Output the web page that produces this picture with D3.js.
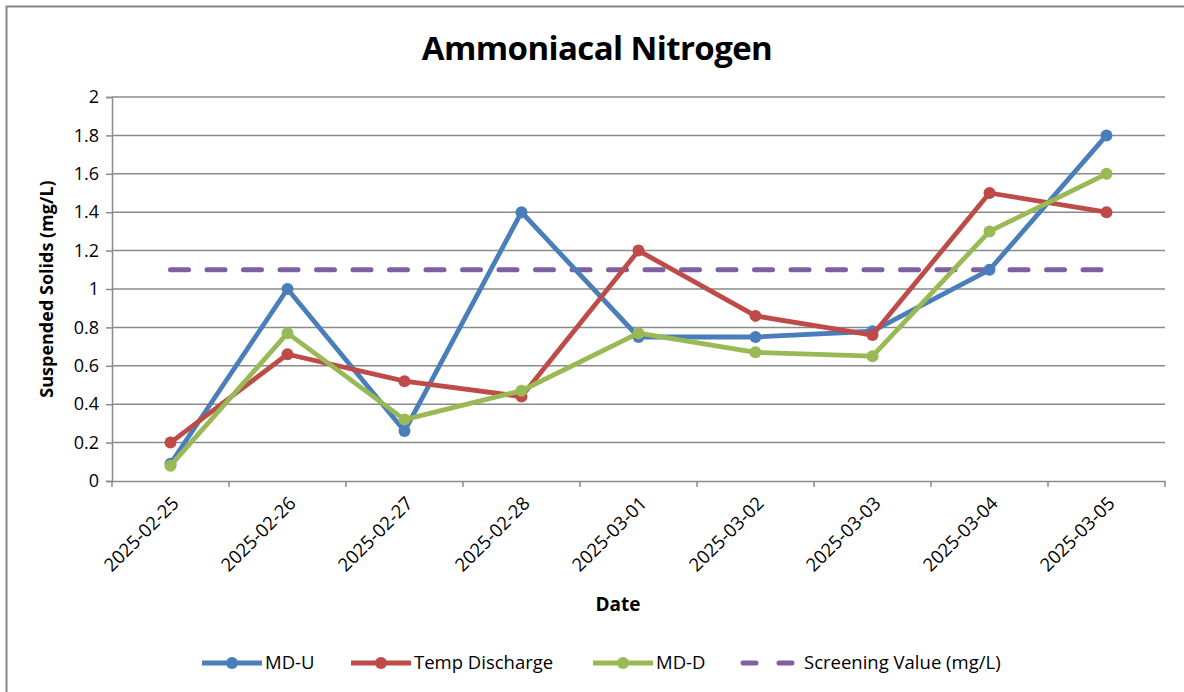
<!DOCTYPE html>
<html>
<head>
<meta charset="utf-8">
<script src="https://cdn.jsdelivr.net/npm/d3@7"></script>
<style>
  body { margin: 0; background: #fff; }
  text { font-family: "Open Sans", Lato, sans-serif; fill: #000; }
</style>
</head>
<body>
<div id="chart"></div>
<script>
// data
const dates = ["2025-02-25", "2025-02-26", "2025-02-27", "2025-02-28", "2025-03-01",
               "2025-03-02", "2025-03-03", "2025-03-04", "2025-03-05"];
const mdU = [0.09, 1.0, 0.26, 1.4, 0.75, 0.75, 0.78, 1.1, 1.8];
const tempDischarge = [0.2, 0.66, 0.52, 0.44, 1.2, 0.86, 0.76, 1.5, 1.4];
const mdD = [0.08, 0.77, 0.32, 0.47, 0.77, 0.67, 0.65, 1.3, 1.6];
const screening = [1.1, 1.1, 1.1, 1.1, 1.1, 1.1, 1.1, 1.1, 1.1];
const yTicks = [0, 0.2, 0.4, 0.6, 0.8, 1, 1.2, 1.4, 1.6, 1.8, 2];

const series = [
  { name: "MD-U", values: mdU, color: "#4A7EBB" },
  { name: "Temp Discharge", values: tempDischarge, color: "#BE4B48" },
  { name: "MD-D", values: mdD, color: "#98B954" }
];

const W = 1184, H = 692;
const margin = { top: 97, right: 19, bottom: 211, left: 112 };
const width = W - margin.left - margin.right;
const height = H - margin.top - margin.bottom;

const root = d3.select("#chart").append("svg")
  .attr("width", W).attr("height", H);

// outer chart frame (runs off the right and bottom of the picture)
root.append("rect")
  .attr("x", 6.5).attr("y", 6.5)
  .attr("width", 1200).attr("height", 720)
  .attr("fill", "none").attr("stroke", "#878787").attr("stroke-width", 2);

root.append("text")
  .attr("x", 597).attr("y", 60)
  .attr("text-anchor", "middle")
  .style("font-size", "33px").style("font-weight", "bold")
  .style("letter-spacing", "-0.6px")
  .text("Ammoniacal Nitrogen");

const svg = root.append("g")
  .attr("transform", `translate(${margin.left},${margin.top})`);

const x = d3.scaleBand().domain(dates).range([0, width]);
const y = d3.scaleLinear().domain([0, 2]).range([height, 0]);

// grid
svg.append("g")
  .selectAll("line")
  .data(yTicks.slice(1))
  .enter().append("line")
  .attr("x1", 0).attr("x2", width)
  .attr("y1", d => y(d)).attr("y2", d => y(d))
  .attr("stroke", "#8a8a8a").attr("stroke-width", 1.5);

// y axis
const yAxis = svg.append("g")
  .call(d3.axisLeft(y).tickValues(yTicks).tickSize(6).tickPadding(7).tickFormat(d => d3.format("")(d)));
yAxis.select(".domain").attr("stroke", "#8a8a8a").attr("stroke-width", 1.5);
yAxis.selectAll(".tick line").attr("stroke", "#8a8a8a").attr("stroke-width", 1.5);
yAxis.selectAll(".tick text").style("font-size", "18px").style("font-family", "'Open Sans', sans-serif").attr("fill", "#000");

// x axis with ticks at band edges
const xAxis = svg.append("g")
  .attr("transform", `translate(0,${height})`)
  .call(d3.axisBottom(x).tickSize(0).tickSizeOuter(0).tickPadding(0));
xAxis.select(".domain").attr("stroke", "#8a8a8a").attr("stroke-width", 1.5);
xAxis.selectAll(".tick text")
  .style("font-size", "18.5px").style("font-family", "'Open Sans', sans-serif").attr("fill", "#000")
  .attr("text-anchor", "end")
  .attr("transform", "translate(5,19) rotate(-45)")
  .attr("dy", "0.35em");
svg.append("g")
  .selectAll("line")
  .data(d3.range(dates.length + 1))
  .enter().append("line")
  .attr("x1", i => i * x.step()).attr("x2", i => i * x.step())
  .attr("y1", height).attr("y2", height + 6)
  .attr("stroke", "#8a8a8a").attr("stroke-width", 1.5);

// axis titles
root.append("text")
  .attr("transform", `translate(53,289) rotate(-90)`)
  .attr("text-anchor", "middle")
  .style("font-size", "18px").style("font-weight", "bold")
  .text("Suspended Solids (mg/L)");
root.append("text")
  .attr("x", 618).attr("y", 611)
  .attr("text-anchor", "middle")
  .style("font-size", "19px").style("font-weight", "bold")
  .text("Date");

const cx = i => x(dates[i]) + x.bandwidth() / 2;
const line = d3.line().x((d, i) => cx(i)).y(d => y(d));

// screening value dashed line
svg.append("path")
  .datum(screening)
  .attr("d", line)
  .attr("fill", "none")
  .attr("stroke", "#7D60A0").attr("stroke-width", 5)
  .attr("stroke-dasharray", "18,18.5").attr("stroke-linecap", "round");

series.forEach(s => {
  svg.append("path")
    .datum(s.values)
    .attr("d", line)
    .attr("fill", "none")
    .attr("stroke", s.color).attr("stroke-width", 4.8)
    .attr("stroke-linejoin", "round");
  svg.selectAll(null)
    .data(s.values)
    .enter().append("circle")
    .attr("cx", (d, i) => cx(i)).attr("cy", d => y(d))
    .attr("r", 6).attr("fill", s.color);
});

// legend
const legendItems = [
  { name: "MD-U", color: "#4A7EBB", x: 202, dashed: false },
  { name: "Temp Discharge", color: "#BE4B48", x: 351, dashed: false },
  { name: "MD-D", color: "#98B954", x: 593, dashed: false },
  { name: "Screening Value (mg/L)", color: "#7D60A0", x: 740, dashed: true }
];
const legend = root.append("g").attr("transform", "translate(0,663)");
legendItems.forEach(d => {
  const g = legend.append("g").attr("transform", `translate(${d.x},0)`);
  g.append("line")
    .attr("x1", d.dashed ? 3 : 0).attr("x2", d.dashed ? 57 : 60).attr("y1", 0).attr("y2", 0)
    .attr("stroke", d.color).attr("stroke-width", 5)
    .attr("stroke-dasharray", d.dashed ? "13,23" : null)
    .attr("stroke-linecap", d.dashed ? "round" : "butt");
  if (!d.dashed) {
    g.append("circle").attr("cx", 30).attr("cy", 0).attr("r", 6).attr("fill", d.color);
  }
  g.append("text")
    .attr("x", d.dashed ? 64 : 63).attr("y", 0).attr("dy", "0.35em")
    .style("font-size", "18.5px")
    .text(d.name);
});
</script>
</body>
</html>
